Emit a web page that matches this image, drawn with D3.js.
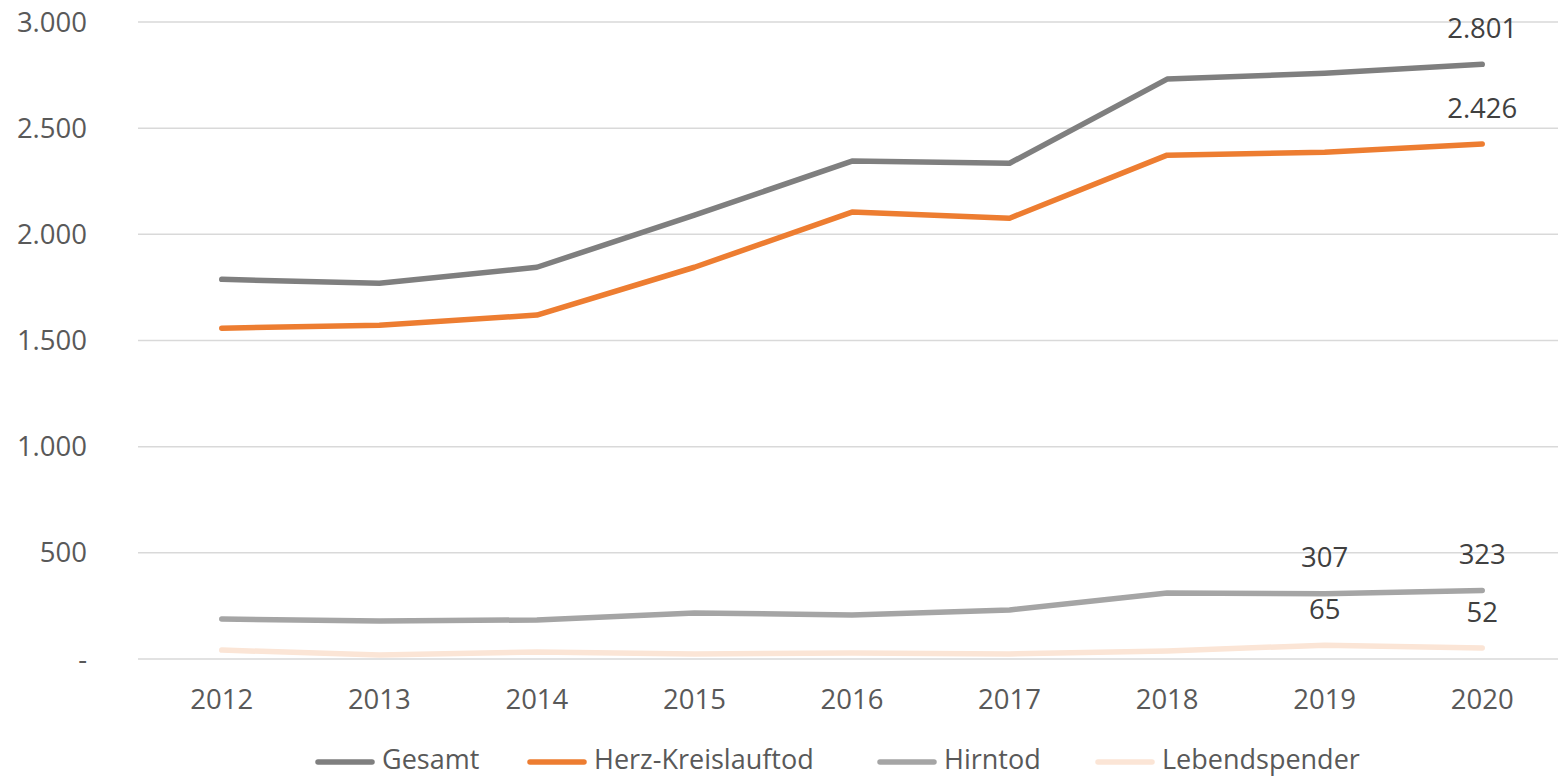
<!DOCTYPE html>
<html>
<head>
<meta charset="utf-8">
<script src="https://cdn.jsdelivr.net/npm/d3@7"></script>
<style>
  body { margin: 0; background: #fff; }
  svg text { font-family: "Open Sans", sans-serif; font-size: 27.5px; }
</style>
</head>
<body>
<svg id="chart" width="1558" height="779"></svg>
<script>
const years = ["2012", "2013", "2014", "2015", "2016", "2017", "2018", "2019", "2020"];
const gesamt = [1788, 1770, 1845, 2090, 2345, 2335, 2731, 2759, 2801];
const herzKreislauf = [1558, 1572, 1620, 1845, 2105, 2076, 2373, 2387, 2426];
const hirntod = [188, 179, 184, 217, 207, 231, 311, 307, 323];
const lebendspender = [42, 19, 33, 24, 28, 24, 38, 65, 52];
const yTicks = [0, 500, 1000, 1500, 2000, 2500, 3000];

const series = [
    { name: "Gesamt", values: gesamt, color: "#7f7f7f", labels: [8] },
    { name: "Herz-Kreislauftod", values: herzKreislauf, color: "#ed7d31", labels: [8] },
    { name: "Hirntod", values: hirntod, color: "#a5a5a5", labels: [7, 8] },
    { name: "Lebendspender", values: lebendspender, color: "#fbe5d6", labels: [7, 8] }
];

const svg = d3.select("#chart");
const plotLeft = 138, plotRight = 1558, plotTop = 22, plotBottom = 659;

const x = d3.scalePoint().domain(years).range([plotLeft + 5, plotRight + 3]).padding(0.5);
const y = d3.scaleLinear().domain([0, 3000]).range([plotBottom, plotTop]);

const fmt = v => v === 0 ? "-" : d3.format(",")(v).replace(/,/g, ".");

// gitterlinien
svg.append("g").selectAll("line")
    .data(yTicks)
    .join("line")
    .attr("x1", plotLeft).attr("x2", plotRight)
    .attr("y1", d => y(d)).attr("y2", d => y(d))
    .attr("stroke", "#d9d9d9")
    .attr("stroke-width", 1.5);

svg.append("g").selectAll("text")
    .data(yTicks)
    .join("text")
    .attr("x", 87)
    .attr("y", d => y(d))
    .attr("dy", "0.35em")
    .attr("text-anchor", "end")
    .attr("fill", "#595959")
    .text(fmt);

svg.append("g").selectAll("text")
    .data(years)
    .join("text")
    .attr("x", d => x(d))
    .attr("y", 699)
    .attr("dy", "0.35em")
    .attr("text-anchor", "middle")
    .attr("fill", "#595959")
    .text(d => d);

const line = d3.line()
    .x((d, i) => x(years[i]))
    .y(d => y(d));

// reihenfolge: hinten nach vorne
[...series].reverse().forEach(s => {
    svg.append("path")
        .datum(s.values)
        .attr("d", line)
        .attr("fill", "none")
        .attr("stroke", s.color)
        .attr("stroke-width", 5.5)
        .attr("stroke-linecap", "round")
        .attr("stroke-linejoin", "round");
});

series.forEach(s => {
    svg.append("g").selectAll("text")
        .data(s.labels)
        .join("text")
        .attr("x", i => x(years[i]))
        .attr("y", i => y(s.values[i]) - 36)
        .attr("dy", "0.35em")
        .attr("text-anchor", "middle")
        .attr("fill", "#404040")
        .text(i => fmt(s.values[i]));
});

// legende
const legendPos = [318, 530, 880, 1098];
const legend = svg.append("g").selectAll("g")
    .data(series)
    .join("g")
    .attr("transform", (d, i) => `translate(${legendPos[i]},760)`);

legend.append("line")
    .attr("x1", 0).attr("x2", 54)
    .attr("y1", 2).attr("y2", 2)
    .attr("stroke", d => d.color)
    .attr("stroke-width", 5.5)
    .attr("stroke-linecap", "round");

legend.append("text")
    .attr("x", 64)
    .attr("dy", "0.33em")
    .attr("fill", "#595959")
    .style("font-size", "27px")
    .text(d => d.name);
</script>
</body>
</html>
